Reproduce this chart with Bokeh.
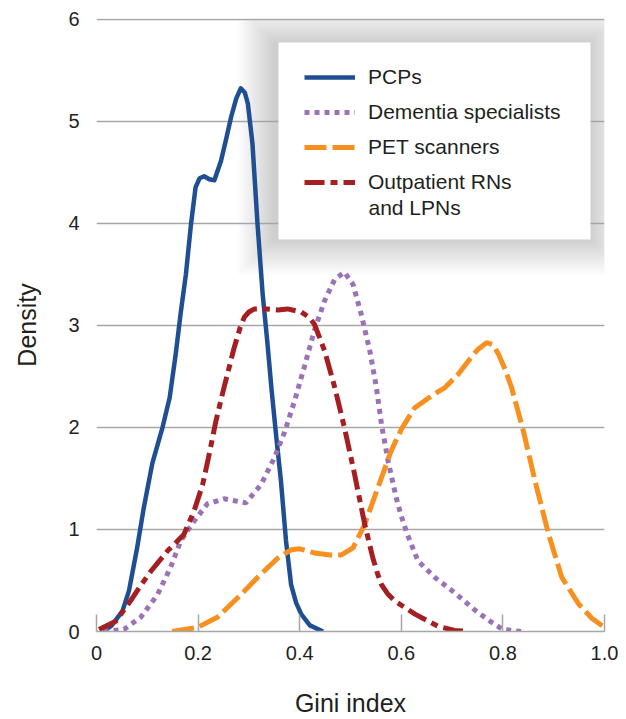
from bokeh.plotting import figure
from bokeh.models import Range1d, Legend, LegendItem, BoxAnnotation, FixedTicker, Label
from bokeh.embed import file_html
from bokeh.resources import INLINE

# ---------------- data ----------------
pcp_x = [0.014, 0.03, 0.051, 0.064, 0.080, 0.093, 0.110, 0.130, 0.144, 0.156, 0.166, 0.176,
         0.186, 0.195, 0.203, 0.212, 0.222, 0.232, 0.245, 0.255, 0.265, 0.275, 0.284, 0.292,
         0.298, 0.307, 0.317, 0.327, 0.336, 0.345, 0.354, 0.363, 0.373, 0.383, 0.393, 0.403,
         0.420, 0.446]
pcp_y = [0.0, 0.06, 0.2, 0.4, 0.82, 1.21, 1.65, 2.0, 2.29, 2.72, 3.13, 3.5,
         3.99, 4.35, 4.44, 4.46, 4.43, 4.42, 4.61, 4.82, 5.04, 5.22, 5.32, 5.28,
         5.17, 4.78, 3.99, 3.31, 2.85, 2.35, 1.9, 1.48, 0.89, 0.46, 0.28, 0.17,
         0.06, 0.0]

dem_x = [0.014, 0.054, 0.087, 0.120, 0.146, 0.166, 0.192, 0.218, 0.251, 0.294, 0.324, 0.350,
         0.370, 0.390, 0.409, 0.429, 0.449, 0.469, 0.488, 0.505, 0.521, 0.538, 0.551, 0.561,
         0.574, 0.590, 0.600, 0.612, 0.633, 0.666, 0.705, 0.745, 0.775, 0.800, 0.837]
dem_y = [0.0, 0.02, 0.14, 0.36, 0.63, 0.89, 1.08, 1.25, 1.30, 1.26, 1.44, 1.70,
         1.95, 2.26, 2.59, 2.95, 3.24, 3.45, 3.52, 3.40, 3.11, 2.75, 2.39, 2.03,
         1.67, 1.31, 1.13, 0.95, 0.69, 0.53, 0.38, 0.21, 0.10, 0.02, 0.0]

pet_x = [0.149, 0.199, 0.238, 0.278, 0.317, 0.357, 0.383, 0.400, 0.429, 0.460, 0.482, 0.505,
         0.528, 0.554, 0.580, 0.600, 0.626, 0.660, 0.686, 0.712, 0.732, 0.750, 0.768, 0.780,
         0.791, 0.805, 0.817, 0.840, 0.863, 0.890, 0.916, 0.949, 0.975, 1.0]
pet_y = [0.0, 0.04, 0.14, 0.33, 0.53, 0.72, 0.80, 0.81, 0.77, 0.75, 0.75, 0.82,
         1.05, 1.41, 1.77, 1.98, 2.19, 2.31, 2.39, 2.52, 2.65, 2.76, 2.83, 2.81,
         2.72, 2.56, 2.39, 1.97, 1.48, 0.95, 0.53, 0.27, 0.13, 0.04]

rn_x = [0.005, 0.038, 0.067, 0.087, 0.107, 0.140, 0.172, 0.192, 0.209, 0.222, 0.235, 0.251,
        0.271, 0.283, 0.291, 0.300, 0.311, 0.335, 0.357, 0.376, 0.403, 0.418, 0.429, 0.449,
        0.469, 0.488, 0.508, 0.528, 0.544, 0.553, 0.561, 0.573, 0.587, 0.627, 0.673, 0.705,
        0.731]
rn_y = [0.02, 0.1, 0.3, 0.45, 0.59, 0.79, 0.95, 1.18, 1.44, 1.74, 2.06, 2.39,
        2.78, 2.98, 3.08, 3.13, 3.16, 3.16, 3.15, 3.16, 3.13, 3.08, 3.01, 2.75,
        2.39, 2.0, 1.54, 1.05, 0.72, 0.57, 0.46, 0.37, 0.30, 0.17, 0.05, 0.01,
        0.0]

series_labels = ["PCPs", "Dementia specialists", "PET scanners", "Outpatient RNs"]
series_label_cont = "and LPNs"
x_ticks = [0, 0.2, 0.4, 0.6, 0.8, 1.0]
x_tick_labels = ["0", "0.2", "0.4", "0.6", "0.8", "1.0"]
y_ticks = [0, 1, 2, 3, 4, 5, 6]

# ---------------- layout ----------------
W, H = 626, 719
BL, BR, BT, BB = 96, 22, 18, 88
FONT = "Liberation Sans"
TXT = "#231f20"
GRID = "#a6a6a6"

p = figure(width=W, height=H, output_backend="svg", toolbar_location=None,
           x_range=Range1d(0, 1.0), y_range=Range1d(0, 6.005),
           min_border_left=BL, min_border_right=BR, min_border_top=BT, min_border_bottom=BB,
           background_fill_color="white", border_fill_color="white")
p.outline_line_color = None

p.xgrid.grid_line_color = None
p.ygrid.ticker = FixedTicker(ticks=y_ticks[1:])
p.ygrid.grid_line_color = GRID
p.ygrid.grid_line_width = 1.5

xa = p.xaxis[0]
xa.ticker = FixedTicker(ticks=x_ticks)
xa.major_label_overrides = {t: l for t, l in zip(x_ticks, x_tick_labels)}
xa.axis_line_color = GRID
xa.axis_line_width = 1.5
xa.major_tick_line_color = GRID
xa.major_tick_line_width = 1.5
xa.major_tick_in = 17
xa.major_tick_out = 0
xa.minor_tick_line_color = None
xa.major_label_text_font = FONT
xa.major_label_text_font_size = "20px"
xa.major_label_text_color = TXT
xa.major_label_standoff = 14
xa.axis_label = "Gini index"
xa.axis_label_text_font = FONT
xa.axis_label_text_font_size = "25px"
xa.axis_label_text_font_style = "normal"
xa.axis_label_text_color = TXT
xa.axis_label_standoff = 26

ya = p.yaxis[0]
ya.ticker = FixedTicker(ticks=y_ticks)
ya.axis_line_color = None
ya.major_tick_line_color = None
ya.minor_tick_line_color = None
ya.major_label_text_font = FONT
ya.major_label_text_font_size = "20px"
ya.major_label_text_color = TXT
ya.major_label_standoff = 11
ya.axis_label = "Density"
ya.axis_label_text_font = FONT
ya.axis_label_text_font_size = "25px"
ya.axis_label_text_font_style = "normal"
ya.axis_label_text_color = TXT
ya.axis_label_standoff = 24

# ---------------- legend box with soft shadow (drawn under the grid) ----------------
LX, LY_TOP, LW, LH = 278, 42, 312, 197   # legend box, canvas pixels
frame_w = W - BL - BR
frame_h = H - BT - BB
def px_to_x(px):
    return (px - BL) / frame_w * 1.0
def py_to_y(py):
    return (BT + frame_h - py) / frame_h * 6.005

for i in range(16):
    g = 1 + i * 2.3
    p.add_layout(BoxAnnotation(left=px_to_x(LX - g - 5), right=px_to_x(LX + LW + g),
                               top=py_to_y(LY_TOP - g), bottom=py_to_y(LY_TOP + LH + g),
                               fill_color="black", fill_alpha=0.0105, line_color=None,
                               level="image"))

r_pcp = p.line(pcp_x, pcp_y, line_color="#1f4f92", line_width=4.5, line_join="round")
r_dem = p.line(dem_x, dem_y, line_color="#9b72b6", line_width=5, line_dash="5 5")
r_pet = p.line(pet_x, pet_y, line_color="#f7901e", line_width=5, line_dash="22 6")
r_rn = p.line(rn_x, rn_y, line_color="#a51e22", line_width=5, line_dash="20 6 7 6")

p.add_layout(BoxAnnotation(left=px_to_x(LX), right=px_to_x(LX + LW),
                           top=py_to_y(LY_TOP), bottom=py_to_y(LY_TOP + LH),
                           fill_color="white", fill_alpha=1.0, line_color=None))

legend = Legend(items=[LegendItem(label=series_labels[0], renderers=[r_pcp]),
                       LegendItem(label=series_labels[1], renderers=[r_dem]),
                       LegendItem(label=series_labels[2], renderers=[r_pet]),
                       LegendItem(label=series_labels[3], renderers=[r_rn])],
                location=(208, 437),
                border_line_color=None, background_fill_alpha=0.0,
                padding=0, margin=0, spacing=11,
                glyph_width=51, glyph_height=20, label_height=20,
                label_standoff=13,
                label_text_font=FONT, label_text_font_size="21px", label_text_color=TXT)
p.add_layout(legend)

p.add_layout(Label(x=px_to_x(368), y=py_to_y(207), text=series_label_cont,
                   text_font=FONT, text_font_size="21px", text_color=TXT,
                   text_baseline="middle", text_align="left"))

open("out.html", "w").write(file_html(p, INLINE))
